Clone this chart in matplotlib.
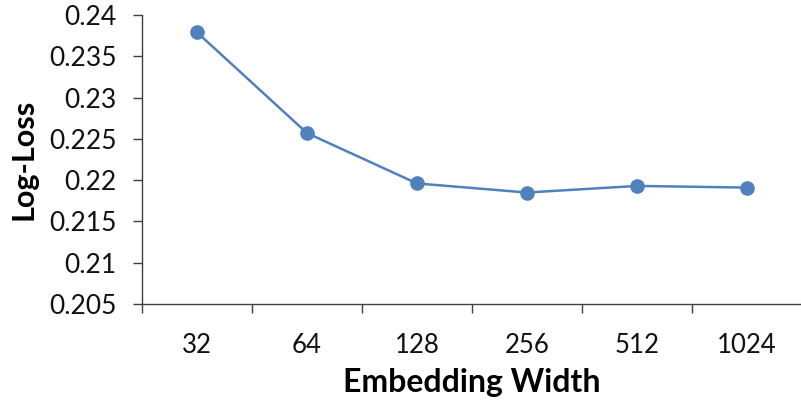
import matplotlib
matplotlib.use("Agg")
import matplotlib.pyplot as plt
import numpy as np

categories = ["32", "64", "128", "256", "512", "1024"]
log_loss = [0.2379, 0.2257, 0.2196, 0.2185, 0.2193, 0.2191]
y_ticks = [0.205, 0.21, 0.215, 0.22, 0.225, 0.23, 0.235, 0.24]
y_tick_labels = ["0.205", "0.21", "0.215", "0.22", "0.225", "0.23", "0.235", "0.24"]

plt.rcParams['font.family'] = ['Lato', 'DejaVu Sans']

fig = plt.figure(figsize=(8.01, 4.05), dpi=100)
ax = fig.add_axes([142/801, 1-304/405, 660/801, (304-15)/405])

x = np.arange(len(categories))
ax.plot(x, log_loss, color="#4F81BD", linewidth=1.8, marker="o", markersize=9.5,
        markeredgecolor="#4F81BD", markerfacecolor="#4F81BD", clip_on=False)

ax.set_xlim(-0.5, len(categories) - 0.5)
ax.set_ylim(0.205, 0.24)
ax.set_yticks(y_ticks)
ax.set_yticklabels(y_tick_labels)

ax.set_xticks(np.arange(len(categories) + 1) - 0.5)
ax.set_xticklabels([])
ax.set_xticks(x, minor=True)
ax.set_xticklabels(categories, minor=True)

ax.spines['top'].set_visible(False)
ax.spines['right'].set_visible(False)
for s in ['left', 'bottom']:
    ax.spines[s].set_color("#404040")
    ax.spines[s].set_linewidth(1.0)

ax.tick_params(axis='y', which='major', direction='out', length=6.5, width=1.0,
               color="#404040", labelsize=19, pad=12, labelcolor="#111111")
ax.tick_params(axis='x', which='major', direction='out', length=6.5, width=1.0,
               color="#404040")
ax.tick_params(axis='x', which='minor', length=0, labelsize=18.5, pad=21,
               labelcolor="#111111")

ax.set_ylabel("Log-Loss", fontsize=22, fontweight='bold', labelpad=8)
ax.set_xlabel("Embedding Width", fontsize=23, fontweight='bold', labelpad=7)

fig.savefig("out.png", dpi=100)
